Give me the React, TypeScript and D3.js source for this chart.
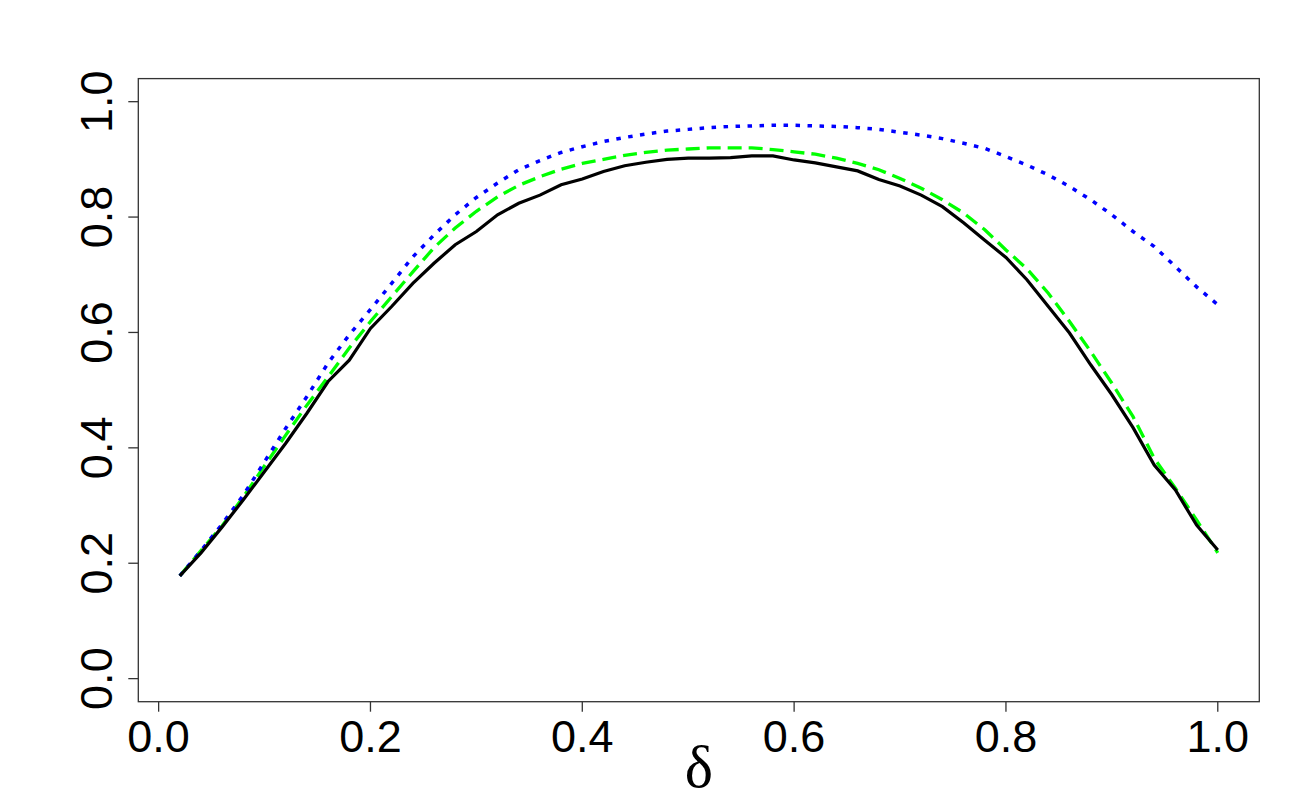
import * as d3 from "d3";

const W = 1300;
const H = 800;

// delta grid 0.02 .. 1.00
const delta = [
  0.02, 0.04, 0.06, 0.08, 0.1, 0.12, 0.14, 0.16, 0.18, 0.2,
  0.22, 0.24, 0.26, 0.28, 0.3, 0.32, 0.34, 0.36, 0.38, 0.4,
  0.42, 0.44, 0.46, 0.48, 0.5, 0.52, 0.54, 0.56, 0.58, 0.6,
  0.62, 0.64, 0.66, 0.68, 0.7, 0.72, 0.74, 0.76, 0.78, 0.8,
  0.82, 0.84, 0.86, 0.88, 0.9, 0.92, 0.94, 0.96, 0.98, 1.0,
];

// black solid
const simulated = [
  0.178, 0.218, 0.263, 0.31, 0.359, 0.408, 0.46, 0.515, 0.552, 0.607,
  0.645, 0.685, 0.72, 0.752, 0.775, 0.804, 0.824, 0.838, 0.856, 0.866,
  0.879, 0.889, 0.895, 0.9, 0.902, 0.902, 0.903, 0.906, 0.906, 0.899,
  0.894, 0.887, 0.88, 0.865, 0.854, 0.838, 0.818, 0.79, 0.76, 0.73,
  0.691, 0.645, 0.599, 0.544, 0.492, 0.435, 0.37, 0.327, 0.266, 0.223,
];

// green dashed
const approx = [
  0.178, 0.222, 0.265, 0.315, 0.369, 0.422, 0.474, 0.523, 0.573, 0.619,
  0.662, 0.705, 0.747, 0.781, 0.81, 0.835, 0.855, 0.87, 0.883, 0.893,
  0.9, 0.907, 0.912, 0.916, 0.918, 0.92, 0.92, 0.92, 0.917, 0.913,
  0.909, 0.902, 0.893, 0.882, 0.867, 0.85, 0.83, 0.807, 0.778, 0.743,
  0.71, 0.668, 0.619, 0.567, 0.512, 0.454, 0.382, 0.33, 0.275, 0.218,
];

// blue dotted
const bound = [
  0.178, 0.222, 0.268, 0.318, 0.376, 0.434, 0.489, 0.547, 0.596, 0.64,
  0.685, 0.731, 0.769, 0.804, 0.834, 0.859, 0.882, 0.898, 0.912, 0.922,
  0.931, 0.938, 0.944, 0.949, 0.952, 0.955, 0.957, 0.958, 0.959, 0.959,
  0.958, 0.957, 0.955, 0.952, 0.947, 0.942, 0.936, 0.928, 0.919, 0.905,
  0.89, 0.873, 0.853, 0.83, 0.804, 0.775, 0.749, 0.714, 0.679, 0.648,
];

const xTicks = [0, 0.2, 0.4, 0.6, 0.8, 1.0];
const yTicks = [0, 0.2, 0.4, 0.6, 0.8, 1.0];

export default function App() {
  // R style: 4% padding around data range
  const x = d3.scaleLinear().domain([-0.0192, 1.0392]).range([138.3, 1259.3]);
  const y = d3.scaleLinear().domain([-0.04, 1.04]).range([701.7, 78.6]);

  const line = (vals: number[]) =>
    d3
      .line<number>()
      .x((_, i) => x(delta[i]))
      .y((d) => y(d))(vals) || "";

  const fontSans = "'Liberation Sans', Arial, sans-serif";
  const x0 = x.range()[0];
  const x1 = x.range()[1];
  const y0 = y.range()[0];
  const y1 = y.range()[1];

  return (
    <div style={{ position: "fixed", left: 0, top: 0 }}>
      <svg width={W} height={H} style={{ display: "block", background: "#fff" }}>
        <rect x={0} y={0} width={W} height={H} fill="#fff" />

        <path d={line(approx)} fill="none" stroke="#00ff00" strokeWidth={3.3} strokeDasharray="14,7" />
        <path d={line(bound)} fill="none" stroke="#0000ff" strokeWidth={3.5} strokeDasharray="4.5,7.5" />
        <path d={line(simulated)} fill="none" stroke="#000" strokeWidth={3.2} />

        <rect
          x={x0}
          y={y1}
          width={x1 - x0}
          height={y0 - y1}
          fill="none"
          stroke="#333"
          strokeWidth={1.3}
        />

        {xTicks.map((t) => (
          <g key={"x" + t}>
            <line x1={x(t)} x2={x(t)} y1={y0} y2={y0 + 10} stroke="#333" strokeWidth={1.3} />
            <text
              x={x(t)}
              y={752}
              textAnchor="middle"
              fontFamily={fontSans}
              fontSize={45}
              fill="#000"
            >
              {d3.format(".1f")(t)}
            </text>
          </g>
        ))}

        {yTicks.map((t) => (
          <g key={"y" + t}>
            <line x1={x0 - 10} x2={x0} y1={y(t)} y2={y(t)} stroke="#333" strokeWidth={1.3} />
            <text
              transform={`translate(111.5,${y(t)}) rotate(-90)`}
              textAnchor="middle"
              fontFamily={fontSans}
              fontSize={45}
              fill="#000"
            >
              {d3.format(".1f")(t)}
            </text>
          </g>
        ))}

        <text
          x={(x0 + x1) / 2}
          y={787}
          textAnchor="middle"
          fontFamily="'Liberation Serif', 'Times New Roman', serif"
          fontSize={60}
          fill="#000"
        >
          δ
        </text>
      </svg>
    </div>
  );
}
